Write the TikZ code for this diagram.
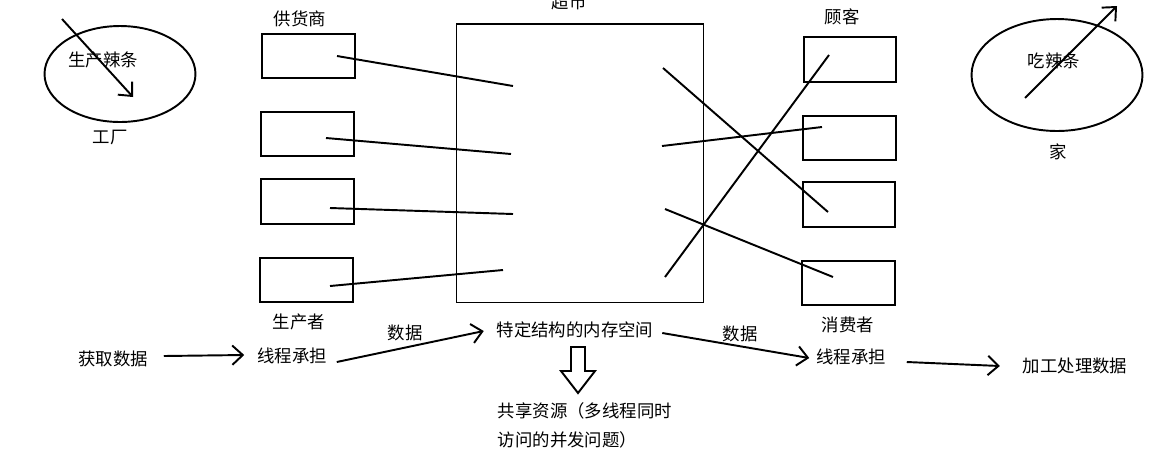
\documentclass[tikz,border=0pt]{standalone}
\usepackage{fontspec}
\setmainfont{Noto Sans CJK SC}
\usetikzlibrary{arrows.meta,shapes.geometric}

\begin{document}
\begin{tikzpicture}[x=0.02cm,y=-0.02cm,line width=1.1pt,
        every node/.style={inner sep=0pt,font=\fontsize{9.9}{16.5}\selectfont},
        caja/.style={draw,minimum width=1.85cm,minimum height=0.89cm},
        flecha/.style={-{Straight Barb[length=6pt,width=11pt]}}]
        \useasboundingbox (0,0) rectangle (1169,468);

        % 工厂
        \node[draw,ellipse,minimum width=3.02cm,minimum height=1.92cm] (factory) at (120,74) {};
        \node (make) at (103,60) {生产辣条};
        \node (factorylbl) at (110,137) {工厂};
        \coordinate (fa) at (62,19);
        \coordinate (fb) at (133,97);
        \draw[flecha] (fa) -- (fb);

        % 供货商
        \node (supplier) at (300,19) {供货商};
        \node[caja] (s1) at (308.5,56) {};
        \node[caja] (s2) at (307.5,134) {};
        \node[caja] (s3) at (307.5,201.5) {};
        \node[caja] (s4) at (306.5,280) {};
        \node (producer) at (299,322) {生产者};

        % 超市
        \node (marketlbl) at (569,2) {超市};
        \node[draw,minimum width=4.94cm,minimum height=5.58cm] (market) at (580,163) {};
        \coordinate (m1) at (513,86);
        \coordinate (m2) at (511,154);
        \coordinate (m3) at (513,214);
        \coordinate (m4) at (503,270);
        \coordinate (m5) at (663,68);
        \coordinate (m6) at (662,146);
        \coordinate (m7) at (665,209);
        \coordinate (m8) at (665,277);

        \draw ([shift={(28.5,0)}]s1.center) -- (m1);
        \draw ([shift={(18.5,4)}]s2.center) -- (m2);
        \draw ([shift={(22.5,6.5)}]s3.center) -- (m3);
        \draw ([shift={(23.5,6)}]s4.center) -- (m4);

        % 顾客
        \node (customer) at (842,17) {顾客};
        \node[caja] (c1) at (850,59.5) {};
        \node[caja] (c2) at (849.5,138) {};
        \node[caja] (c3) at (849,204.5) {};
        \node[caja] (c4) at (848.5,283) {};
        \node (consumer) at (848,325) {消费者};

        \draw (m5) -- ([shift={(-21,7.5)}]c3.center);
        \draw (m6) -- ([shift={(-27.5,-11)}]c2.center);
        \draw (m7) -- ([shift={(-15.5,-6)}]c4.center);
        \draw (m8) -- ([shift={(-21,-4.5)}]c1.center);

        % 家
        \node[draw,ellipse,minimum width=3.42cm,minimum height=2.24cm] (home) at (1057,75) {};
        \node (eat) at (1054,61) {吃辣条};
        \node (homelbl) at (1058,152) {家};
        \coordinate (ha) at (1025,98);
        \coordinate (hb) at (1117,6);
        \draw[flecha] (ha) -- (hb);

        % 流程
        \node (get) at (113,359) {获取数据};
        \node (pthread) at (292,356) {线程承担};
        \node (mem) at (575,330) {特定结构的内存空间};
        \node (cthread) at (851,357) {线程承担};
        \node (proc) at (1075,366) {加工处理数据};
        \node (data1) at (405,333) {数据};
        \node (data2) at (740,334) {数据};

        \draw[flecha] ([shift={(15,-3)}]get.east) -- ([shift={(-12,-1)}]pthread.west);
        \draw[flecha] ([shift={(9,6)}]pthread.east) -- ([shift={(-12,1)}]mem.west);
        \draw[flecha] ([shift={(8,3)}]mem.east) -- ([shift={(-6,1)}]cthread.west);
        \draw[flecha] ([shift={(20,5)}]cthread.east) -- ([shift={(-22,0)}]proc.west);

        % 共享资源
        \draw (571,347) -- (585,347) -- (585,371) -- (595,371) -- (578,393)
              -- (561,371) -- (571,371) -- cycle;
        \node[anchor=west,align=left] (shared) at (497,425.5) {共享资源（多线程同时\\访问的并发问题）};
\end{tikzpicture}
\end{document}
